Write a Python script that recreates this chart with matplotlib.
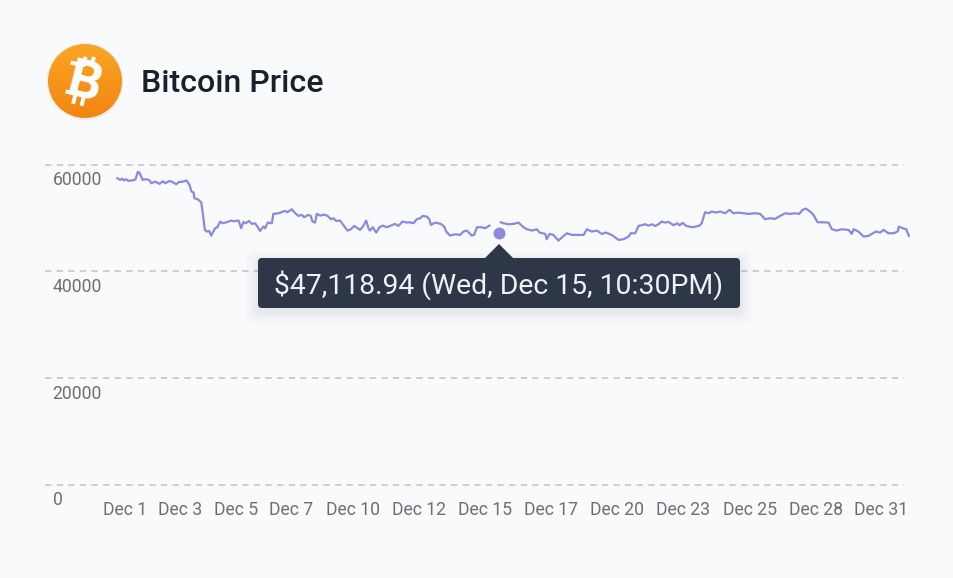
import matplotlib.pyplot as plt
import numpy as np
from matplotlib.patches import Circle, FancyBboxPatch, Polygon, Rectangle
from matplotlib.transforms import ScaledTranslation

# days since Dec 1 00:00, nan marks the gap in the line around the hovered point
DAYS = [
    0.01, 0.12, 0.20, 0.27, 0.35, 0.44, 0.64, 0.72, 0.81, 0.87, 1.00, 1.10, 1.25, 1.34, 1.49, 1.66, 1.79, 1.88,
    2.05, 2.18, 2.31, 2.42, 2.53, 2.72, 2.83, 2.91, 2.99, 3.02, 3.15, 3.29, 3.35, 3.43, 3.51, 3.60, 3.68, 3.83,
    3.92, 4.03, 4.12, 4.29, 4.45, 4.55, 4.75, 4.85, 4.94, 5.03, 5.16, 5.27, 5.40, 5.59, 5.72, 5.79, 5.89, 6.05,
    6.11, 6.31, 6.57, 6.66, 6.83, 6.94, 7.09, 7.22, 7.31, 7.48, 7.57, 7.64, 7.74, 7.81, 7.94, 8.10, 8.23, 8.36,
    8.46, 8.56, 8.72, 8.89, 9.01, 9.14, 9.27, 9.40, 9.50, 9.63, 9.74, 9.83, 9.89, 10.00, 10.13, 10.26, 10.39,
    10.55, 10.70, 10.87, 11.00, 11.16, 11.33, 11.43, 11.59, 11.72, 11.85, 11.95, 12.11, 12.21, 12.27, 12.44,
    12.66, 12.79, 12.87, 13.02, 13.22, 13.41, 13.54, 13.67, 13.87, 13.96, 14.07, 14.26, 14.39, 14.56, 14.8,
    15.00, 15.11, 15.30, 15.50, 15.69, 15.86, 16.02, 16.22, 16.41, 16.52, 16.74, 16.80, 16.91, 17.06, 17.26,
    17.43, 17.59, 17.78, 17.98, 18.24, 18.37, 18.56, 18.76, 18.95, 19.12, 19.34, 19.61, 19.80, 20.00, 20.09,
    20.26, 20.39, 20.45, 20.65, 20.78, 20.91, 21.04, 21.17, 21.30, 21.43, 21.56, 21.76, 21.91, 21.99, 22.12,
    22.25, 22.51, 22.77, 22.86, 22.99, 23.13, 23.26, 23.43, 23.58, 23.78, 23.95, 24.10, 24.30, 24.49, 24.69,
    24.95, 25.15, 25.34, 25.54, 25.73, 25.93, 26.12, 26.32, 26.51, 26.67, 26.80, 26.93, 27.10, 27.23, 27.39,
    27.56, 27.82, 27.95, 28.14, 28.34, 28.60, 28.73, 28.80, 28.99, 29.19, 29.38, 29.51, 29.67, 29.84, 29.97,
    30.16, 30.36, 30.52, 30.57, 30.75, 30.86, 30.96,
]
PRICES = [
    57430, 57118, 57368, 56993, 57243, 56931, 57056, 57243, 58616, 58491, 57118, 57243, 57118, 56494, 56806, 56369, 56869, 56494,
    56931, 56681, 56307, 56744, 56744, 56993, 56182, 54934, 54746, 53685, 53498, 52936, 50876, 47755, 47443, 47568, 46694, 48067,
    48255, 49316, 49004, 49191, 49503, 49378, 49503, 48067, 49253, 49004, 49441, 48879, 49004, 47568, 48380, 48067, 49128, 49004,
    50751, 50876, 51313, 51063, 51625, 51001, 50377, 50564, 50127, 50564, 50377, 49316, 49128, 50751, 50439, 50626, 50377, 49753,
    49940, 49441, 49503, 48380, 47630, 47880, 48504, 48067, 47755, 48504, 49503, 48067, 47630, 48254, 47255, 48254, 48566,
    48254, 48566, 48878, 48504, 49315, 49128, 49190, 49003, 49752, 49939, 50376, 50251, 49752, 48691, 49128,
    48878, 48379, 47442, 46694, 46943, 46818, 47442, 47630, 46694, 46818, 48254, 48254, 48067, 48566, np.nan,
    49190, 49003, 48816, 48878, 49128, 48379, 47880, 47630, 47880, 47255, 47006, 46007, 47006, 46818, 45757,
    46506, 47130, 46818, 46818, 46818, 47880, 47442, 47630, 47006, 47255, 46818, 45882, 46007, 46506, 47130,
    47130, 48504, 48566, 48816, 48566, 48816, 48504, 48816, 49315, 49128, 49253, 48629, 49003, 48629, 49065,
    48504, 48254, 48566, 49003, 51063, 50875, 51188, 51000, 51188, 50875, 51500, 50875, 51000, 50875, 50751,
    50875, 50751, 49752, 49939, 49815, 50376, 50875, 50751, 50875, 50751, 51500, 51749, 51188, 50563, 49190,
    49190, 49128, 47880, 47630, 47880, 47755, 47006, 47880, 47442, 46506, 46631, 47006, 47442, 47255, 47755,
    47130, 47130, 47442, 48379, 48004, 47880, 46631,
]
HOVER_DAY = 14.94
HOVER_PRICE = 47118.94
HOVER_LABEL = "$47,118.94 (Wed, Dec 15, 10:30PM)"

Y_TICKS = [0, 20000, 40000, 60000]
X_TICK_DAYS = [0.31, 2.48, 4.67, 6.82, 9.23, 11.81, 14.39, 16.97, 19.55, 22.13, 24.76, 27.34, 29.88]
X_TICK_LABELS = ["Dec 1", "Dec 3", "Dec 5", "Dec 7", "Dec 10", "Dec 12", "Dec 15", "Dec 17", "Dec 20",
                 "Dec 23", "Dec 25", "Dec 28", "Dec 31"]

W, H = 954, 578
BG = "#f9fafc"
LINE = "#8e88dc"
TOOLTIP = "#2d3748"

plt.rcParams["font.family"] = ["Roboto", "DejaVu Sans"]

fig = plt.figure(figsize=(W / 100, H / 100), dpi=100, facecolor=BG)

# overlay in pixel coordinates for the icon and the tooltip
over = fig.add_axes([0, 0, 1, 1], zorder=3)
over.set_xlim(0, W)
over.set_ylim(H, 0)
over.axis("off")

# axes run 2000 past both ends so the 0 and 60000 lines are not clipped
ax = fig.add_axes([45 / W, 1 - 495.68 / H, (904 - 45) / W, (495.68 - 153.82) / H], zorder=2)
ax.patch.set_alpha(0)
ax.set_xlim(-2.82, 30.77)
ax.set_ylim(-2000, 62000)
for s in ax.spines.values():
    s.set_visible(False)

ax.set_yticks(Y_TICKS)
ax.set_yticklabels([str(v) for v in Y_TICKS])
ax.set_xticks(X_TICK_DAYS)
ax.set_xticklabels(X_TICK_LABELS)
ax.tick_params(axis="both", length=0, labelsize=12.7, labelcolor="#6f6f73")
ax.tick_params(axis="x", pad=3.5)
ax.tick_params(axis="y", pad=-5.5)
ax.grid(axis="y", color="#cfcfd3", lw=1.44, linestyle=(0, (3.2, 2.6)))
ax.set_axisbelow(True)

offset = ScaledTranslation(0, -13.4 / 100, fig.dpi_scale_trans)
for label in ax.get_yticklabels():
    label.set_ha("left")
    label.set_transform(label.get_transform() + offset)

ax.plot(DAYS, PRICES, color=LINE, lw=1.6, clip_on=False, solid_joinstyle="round")
ax.plot([HOVER_DAY], [HOVER_PRICE], "o", color="#9189dd", ms=8.6, mew=0, clip_on=False)

# tooltip
for grow, alpha in [(12, 0.012), (9, 0.015), (6, 0.02), (3, 0.03)]:
    over.add_patch(FancyBboxPatch((258 - grow, 262 - grow), 482 + 2 * grow, 50 + 2 * grow,
                                  boxstyle="round,pad=0,rounding_size=8", fc=TOOLTIP, ec="none", alpha=alpha))
over.add_patch(FancyBboxPatch((258, 258), 482, 50, boxstyle="round,pad=0,rounding_size=4", fc=TOOLTIP, ec="none"))
over.add_patch(Polygon([(485, 258), (499, 244), (513, 258)], fc=TOOLTIP, ec="none"))
over.text(499, 281.5, HOVER_LABEL, color="#f0f1f4", fontsize=20.4, ha="center", va="center_baseline")

# bitcoin icon
grad = np.linspace(0, 1, 100)[:, None]
colors = np.array([[0.98, 0.65, 0.14]]) * (1 - grad) + np.array([[0.95, 0.52, 0.07]]) * grad
img = over.imshow(colors[:, None, :], extent=(48, 122, 118, 44), aspect="auto", zorder=2)
over.set_xlim(0, W)
over.set_ylim(H, 0)
over.add_patch(Circle((85, 81.5), 38.5, fc="#d8d8dc", ec="none", alpha=0.4, zorder=1))
img.set_clip_path(Circle((85, 81), 37, transform=over.transData))
over.text(81, 98.5, "B", color="white", fontsize=38, fontweight="bold", ha="center", va="baseline",
          rotation=-14, rotation_mode="anchor", zorder=4)
# the two bars above and below the B, and its left serifs
for x, y in [(84.3, 61.7), (92.7, 61.7), (74.3, 99), (82.7, 101)]:
    over.add_patch(Rectangle((x - 2, y - 5), 4, 10, angle=14, rotation_point="center", fc="white", ec="none", zorder=4))
for x, y in [(75, 63.5), (70, 92.5)]:
    over.add_patch(Rectangle((x - 4.5, y - 2), 9, 4, angle=14, rotation_point="center", fc="white", ec="none", zorder=4))

over.text(141, 81, "Bitcoin Price", color="#1a202c", fontsize=23.1, fontweight="medium", ha="left", va="center_baseline")

fig.savefig("out.png", dpi=100, facecolor=BG)
